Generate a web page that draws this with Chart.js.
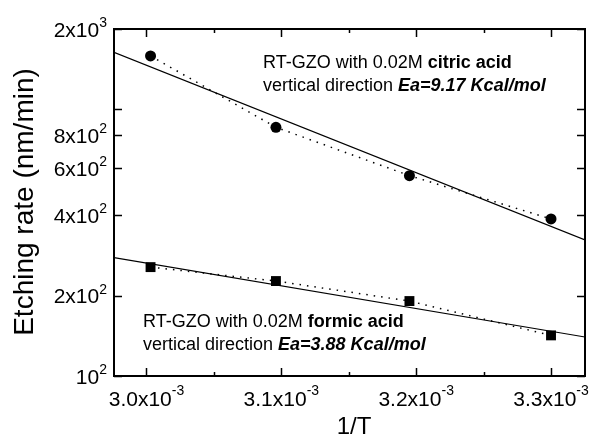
<!DOCTYPE html>
<html>
<head>
<meta charset="utf-8">
<script src="https://cdn.jsdelivr.net/npm/chart.js@4/dist/chart.umd.min.js"></script>
<style>
  html, body { margin: 0; padding: 0; background: #fff; }
  canvas { display: block; }
</style>
</head>
<body>
<canvas id="arrhenius" width="592" height="437"></canvas>
<script>
// datos
const invT = [3.003e-3, 3.096e-3, 3.195e-3, 3.300e-3];
const citricRate = [1585, 856, 564, 388];
const formicRate = [256, 227, 191, 142];

// rectas de ajuste (extremos en los bordes del eje)
const fitX = [2.9759e-3, 3.3252e-3];
const citricFit = [1636, 324];
const formicFit = [278, 140];

// ejes
const xMajor = [3.0e-3, 3.1e-3, 3.2e-3, 3.3e-3];
const xMinor = [3.05e-3, 3.15e-3, 3.25e-3];
const xLabels = ['3.0x10', '3.1x10', '3.2x10', '3.3x10'];
const xExp = '-3';
const yTicks = [100, 200, 400, 600, 800, 1000, 2000];
const yLabels = ['10', '2x10', '4x10', '6x10', '8x10', '', '2x10'];
const yExps = ['2', '2', '2', '2', '2', '', '3'];

const FONT = '"Liberation Sans", Arial, sans-serif';

function pts(xs, ys) {
    return xs.map((x, i) => ({ x: x, y: ys[i] }));
}

// dibuja texto con tramos de distinto estilo
function drawRuns(ctx, x, y, runs) {
    runs.forEach(r => {
        ctx.font = r.f + ' ' + FONT;
        ctx.fillText(r.t, x, y);
        x += ctx.measureText(r.t).width;
    });
}

const framePlugin = {
    id: 'frame',
    afterDraw(chart) {
        const ctx = chart.ctx;
        const a = chart.chartArea;
        const xs = chart.scales.x, ys = chart.scales.y;
        ctx.save();
        ctx.strokeStyle = '#000';
        ctx.fillStyle = '#000';

        // marco
        ctx.lineWidth = 2;
        ctx.strokeRect(a.left, a.top, a.right - a.left, a.bottom - a.top);

        // marcas hacia adentro
        ctx.lineWidth = 1.5;
        ctx.beginPath();
        xMajor.forEach(v => {
            const px = Math.round(xs.getPixelForValue(v)) + 0.5;
            ctx.moveTo(px, a.bottom); ctx.lineTo(px, a.bottom - 8);
            ctx.moveTo(px, a.top); ctx.lineTo(px, a.top + 8);
        });
        xMinor.forEach(v => {
            const px = Math.round(xs.getPixelForValue(v)) + 0.5;
            ctx.moveTo(px, a.bottom); ctx.lineTo(px, a.bottom - 4);
            ctx.moveTo(px, a.top); ctx.lineTo(px, a.top + 4);
        });
        yTicks.forEach(v => {
            const py = Math.round(ys.getPixelForValue(v)) + 0.5;
            ctx.moveTo(a.left, py); ctx.lineTo(a.left + 8, py);
            ctx.moveTo(a.right, py); ctx.lineTo(a.right - 8, py);
        });
        ctx.stroke();

        // etiquetas eje x
        ctx.textBaseline = 'alphabetic';
        ctx.textAlign = 'left';
        xMajor.forEach((v, i) => {
            const px = xs.getPixelForValue(v);
            ctx.font = '21px ' + FONT;
            const bw = ctx.measureText(xLabels[i]).width;
            ctx.font = '14px ' + FONT;
            const ew = ctx.measureText(xExp).width;
            const x0 = px - (bw + ew) / 2;
            ctx.font = '21px ' + FONT;
            ctx.fillText(xLabels[i], x0, 406);
            ctx.font = '14px ' + FONT;
            ctx.fillText(xExp, x0 + bw, 395);
        });

        // etiquetas eje y
        yTicks.forEach((v, i) => {
            if (!yLabels[i]) return;
            const py = ys.getPixelForValue(v);
            ctx.font = '14px ' + FONT;
            const ew = ctx.measureText(yExps[i]).width;
            ctx.fillText(yExps[i], 107 - ew, py - 2);
            ctx.font = '21px ' + FONT;
            const bw = ctx.measureText(yLabels[i]).width;
            ctx.fillText(yLabels[i], 107 - ew - bw, py + 7.5);
        });

        // títulos
        ctx.font = '24px ' + FONT;
        ctx.textAlign = 'center';
        ctx.fillText('1/T', 354, 434);
        ctx.save();
        ctx.translate(33, 202);
        ctx.rotate(-Math.PI / 2);
        ctx.font = '28px ' + FONT;
        ctx.fillText('Etching rate (nm/min)', 0, 0);
        ctx.restore();

        // anotaciones
        ctx.textAlign = 'left';
        drawRuns(ctx, 263, 68, [
            { t: 'RT-GZO with 0.02M ', f: '18px' },
            { t: 'citric acid', f: 'bold 18px' }
        ]);
        drawRuns(ctx, 263, 91, [
            { t: 'vertical direction ', f: '18px' },
            { t: 'Ea=9.17 Kcal/mol', f: 'italic bold 18px' }
        ]);
        drawRuns(ctx, 143, 327, [
            { t: 'RT-GZO with 0.02M ', f: '18px' },
            { t: 'formic acid', f: 'bold 18px' }
        ]);
        drawRuns(ctx, 143, 350, [
            { t: 'vertical direction ', f: '18px' },
            { t: 'Ea=3.88 Kcal/mol', f: 'italic bold 18px' }
        ]);
        ctx.restore();
    }
};

new Chart(document.getElementById('arrhenius').getContext('2d'), {
    type: 'scatter',
    data: {
        datasets: [
            {
                label: 'citric fit',
                data: pts(fitX, citricFit),
                showLine: true,
                borderColor: '#000',
                borderWidth: 1.2,
                pointRadius: 0
            },
            {
                label: 'formic fit',
                data: pts(fitX, formicFit),
                showLine: true,
                borderColor: '#000',
                borderWidth: 1.2,
                pointRadius: 0
            },
            {
                label: 'citric acid',
                data: pts(invT, citricRate),
                showLine: true,
                borderColor: '#000',
                borderWidth: 1.5,
                borderDash: [1.5, 6],
                pointStyle: 'circle',
                pointRadius: 5.5,
                backgroundColor: '#000',
                pointBorderWidth: 0
            },
            {
                label: 'formic acid',
                data: pts(invT, formicRate),
                showLine: true,
                borderColor: '#000',
                borderWidth: 1.5,
                borderDash: [1.5, 6],
                pointStyle: 'rect',
                pointRadius: 7,
                backgroundColor: '#000',
                pointBorderWidth: 0
            }
        ]
    },
    options: {
        responsive: false,
        animation: false,
        layout: { padding: { left: 114, right: 6, top: 29, bottom: 61 } },
        scales: {
            x: { type: 'linear', min: 2.9759e-3, max: 3.3252e-3, display: false },
            y: { type: 'logarithmic', min: 100, max: 2000, display: false }
        },
        plugins: {
            legend: { display: false },
            tooltip: { enabled: false }
        }
    },
    plugins: [framePlugin]
});
</script>
</body>
</html>
